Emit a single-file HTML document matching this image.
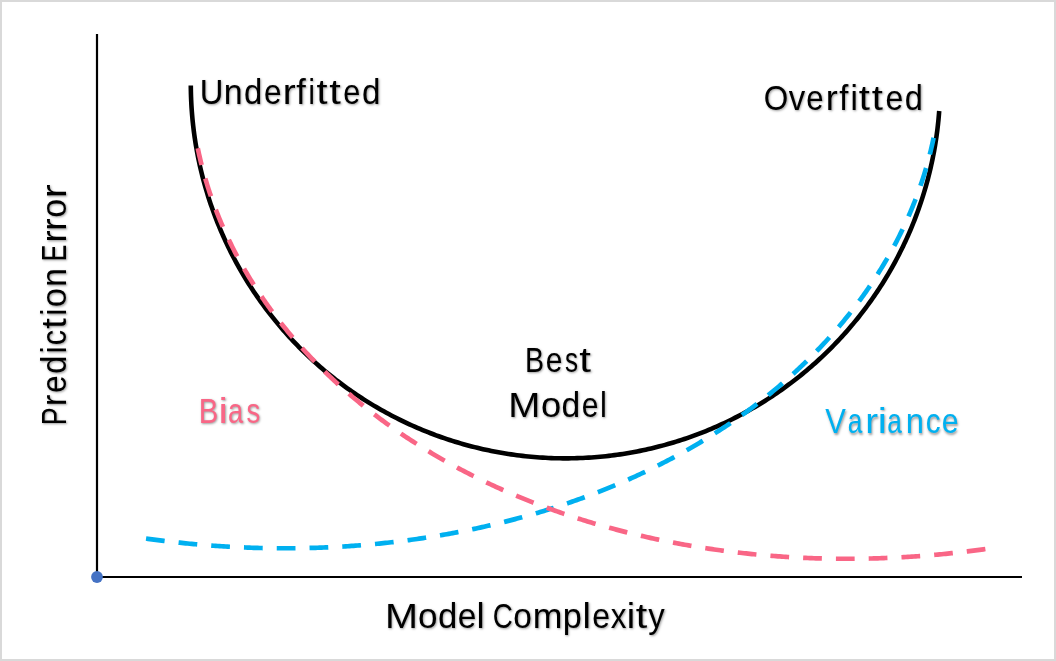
<!DOCTYPE html>
<html><head><meta charset="utf-8">
<style>
html,body{margin:0;padding:0;background:#d9d9d9;}
body{width:1056px;height:661px;position:relative;overflow:hidden;}
#card{position:absolute;left:2px;top:2px;width:1052px;height:657px;background:#fff;}
svg{position:absolute;left:0;top:0;will-change:transform;}
text{font-family:"Liberation Sans",sans-serif;font-size:34.7px;}
.sh text{text-shadow:0.9px 1.2px 2.4px rgba(0,0,0,0.4);}
.sh text.v{text-shadow:-1.2px 0.9px 2.4px rgba(0,0,0,0.4);}
</style></head>
<body>
<div id="card"></div>
<svg width="1056" height="661" viewBox="0 0 1056 661">
<defs><path id="bl" d="M146.04,538.54 L148.02,538.82 L150.00,539.09 L151.98,539.36 L153.96,539.62 L155.95,539.88 L157.93,540.14 L159.91,540.39 L161.90,540.64 L163.88,540.88 L165.87,541.12 L167.86,541.36 L169.84,541.59 L171.83,541.82 L173.82,542.05 L175.80,542.27 L177.79,542.49 L179.78,542.70 L181.77,542.91 L183.76,543.11 L185.75,543.32 L187.74,543.51 L189.73,543.71 L191.72,543.90 L193.71,544.08 L195.70,544.26 L197.70,544.44 L199.69,544.61 L201.68,544.78 L203.67,544.95 L205.67,545.11 L207.66,545.27 L209.66,545.42 L211.65,545.57 L213.64,545.72 L215.64,545.86 L217.64,546.00 L219.63,546.13 L221.63,546.26 L223.62,546.39 L225.62,546.51 L227.62,546.63 L229.61,546.74 L231.61,546.85 L233.61,546.96 L235.60,547.06 L237.60,547.16 L239.60,547.25 L241.60,547.34 L243.60,547.43 L245.59,547.51 L247.59,547.58 L249.59,547.66 L251.59,547.73 L253.59,547.79 L255.59,547.85 L257.59,547.91 L259.59,547.97 L261.59,548.01 L263.58,548.06 L265.58,548.10 L267.58,548.14 L269.58,548.17 L271.58,548.20 L273.58,548.22 L275.58,548.24 L277.58,548.26 L279.58,548.27 L281.58,548.28 L283.58,548.28 L285.58,548.28 L287.58,548.28 L289.58,548.27 L291.58,548.26 L293.58,548.24 L295.58,548.22 L297.58,548.20 L299.58,548.17 L301.58,548.14 L303.58,548.10 L305.58,548.06 L307.58,548.01 L309.58,547.96 L311.58,547.91 L313.58,547.85 L315.58,547.79 L317.58,547.72 L319.58,547.65 L321.57,547.58 L323.57,547.50 L325.57,547.41 L327.57,547.33 L329.57,547.23 L331.56,547.14 L333.56,547.04 L335.56,546.93 L337.56,546.83 L339.55,546.71 L341.55,546.60 L343.55,546.48 L345.54,546.35 L347.54,546.22 L349.53,546.09 L351.53,545.95 L353.52,545.81 L355.52,545.66 L357.51,545.51 L359.51,545.35 L361.50,545.19 L363.49,545.03 L365.49,544.86 L367.48,544.69 L369.47,544.51 L371.46,544.33 L373.45,544.15 L375.45,543.96 L377.44,543.76 L379.43,543.56 L381.42,543.36 L383.40,543.15 L385.39,542.94 L387.38,542.73 L389.37,542.51 L391.36,542.28 L393.34,542.06 L395.33,541.82 L397.32,541.58 L399.30,541.34 L401.29,541.10 L403.27,540.85 L405.25,540.59 L407.24,540.33 L409.22,540.07 L411.20,539.80 L413.18,539.53 L415.16,539.25 L417.14,538.97 L419.12,538.68 L421.10,538.39 L423.08,538.10 L425.06,537.80 L427.03,537.50 L429.01,537.19 L430.99,536.87 L432.96,536.56 L434.94,536.24 L436.91,535.91 L438.88,535.58 L440.85,535.24 L442.82,534.91 L444.79,534.56 L446.76,534.21 L448.73,533.86 L450.70,533.50 L452.67,533.14 L454.63,532.77 L456.60,532.40 L458.56,532.03 L460.53,531.65 L462.49,531.26 L464.45,530.87 L466.41,530.48 L468.37,530.08 L470.33,529.68 L472.29,529.27 L474.24,528.86 L476.20,528.44 L478.16,528.02 L480.11,527.59 L482.06,527.16 L484.02,526.73 L485.97,526.29 L487.92,525.84 L489.86,525.39 L491.81,524.94 L493.76,524.48 L495.71,524.02 L497.65,523.55 L499.59,523.07 L501.54,522.60 L503.48,522.12 L505.42,521.63 L507.35,521.14 L509.29,520.64 L511.23,520.14 L513.16,519.63 L515.10,519.12 L517.03,518.61 L518.96,518.09 L520.89,517.56 L522.82,517.03 L524.75,516.50 L526.67,515.96 L528.60,515.42 L530.52,514.87 L532.44,514.31 L534.36,513.76 L536.28,513.19 L538.20,512.63 L540.12,512.05 L542.03,511.48 L543.94,510.89 L545.86,510.31 L547.77,509.71 L549.68,509.12 L551.58,508.51 L553.49,507.91 L555.39,507.30 L557.30,506.68 L559.20,506.06 L561.10,505.43 L562.99,504.80 L564.89,504.16 L566.78,503.52 L568.68,502.88 L570.57,502.23 L572.46,501.57 L574.34,500.91 L576.23,500.24 L578.11,499.57 L580.00,498.90 L581.88,498.22 L583.76,497.53 L585.63,496.84 L587.51,496.14 L589.38,495.44 L591.25,494.74 L593.12,494.03 L594.99,493.31 L596.85,492.59 L598.72,491.86 L600.58,491.13 L602.44,490.40 L604.30,489.65 L606.15,488.91 L608.01,488.16 L609.86,487.40 L611.71,486.64 L613.55,485.87 L615.40,485.10 L617.24,484.32 L619.08,483.54 L620.92,482.75 L622.76,481.96 L624.59,481.16 L626.42,480.36 L628.25,479.55 L630.08,478.74 L631.90,477.92 L633.73,477.10 L635.55,476.27 L637.37,475.43 L639.18,474.59 L640.99,473.75 L642.80,472.90 L644.61,472.04 L646.42,471.18 L648.22,470.32 L650.02,469.45 L651.82,468.57 L653.61,467.69 L655.41,466.80 L657.20,465.91 L658.99,465.02 L660.77,464.11 L662.55,463.21 L664.33,462.29 L666.11,461.37 L667.88,460.45 L669.65,459.52 L671.42,458.59 L673.19,457.65 L674.95,456.70 L676.71,455.75 L678.47,454.80 L680.22,453.84 L681.97,452.87 L683.72,451.90 L685.46,450.92 L687.21,449.94 L688.95,448.95 L690.68,447.96 L692.41,446.96 L694.14,445.95 L695.87,444.94 L697.59,443.93 L699.31,442.91 L701.03,441.88 L702.74,440.85 L704.45,439.81 L706.16,438.77 L707.87,437.72 L709.57,436.67 L711.26,435.61 L712.96,434.55 L714.65,433.48 L716.33,432.40 L718.02,431.32 L719.69,430.24 L721.37,429.15 L723.04,428.05 L724.71,426.95 L726.38,425.84 L728.04,424.73 L729.70,423.61 L731.35,422.48 L733.00,421.35 L734.65,420.22 L736.29,419.08 L737.93,417.93 L739.56,416.78 L741.19,415.62 L742.82,414.46 L744.44,413.29 L746.06,412.11 L747.68,410.94 L749.29,409.75 L750.90,408.56 L752.50,407.36 L754.10,406.16 L755.69,404.95 L757.28,403.74 L758.87,402.52 L760.45,401.30 L762.03,400.07 L763.60,398.83 L765.17,397.59 L766.73,396.35 L768.29,395.10 L769.85,393.84 L771.40,392.58 L772.95,391.31 L774.49,390.03 L776.03,388.75 L777.56,387.47 L779.09,386.18 L780.61,384.88 L782.13,383.58 L783.64,382.27 L785.15,380.96 L786.65,379.64 L788.15,378.32 L789.65,376.99 L791.14,375.66 L792.62,374.32 L794.10,372.97 L795.58,371.62 L797.05,370.26 L798.51,368.90 L799.97,367.53 L801.42,366.16 L802.87,364.78 L804.31,363.39 L805.75,362.00 L807.19,360.61 L808.61,359.21 L810.04,357.80 L811.45,356.39 L812.86,354.97 L814.27,353.55 L815.67,352.12 L817.06,350.69 L818.45,349.25 L819.84,347.81 L821.21,346.36 L822.59,344.90 L823.95,343.44 L825.31,341.97 L826.67,340.50 L828.02,339.03 L829.36,337.54 L830.70,336.06 L832.03,334.56 L833.35,333.06 L834.67,331.56 L835.98,330.05 L837.29,328.54 L838.59,327.02 L839.88,325.49 L841.17,323.96 L842.45,322.43 L843.73,320.89 L845.00,319.34 L846.26,317.79 L847.52,316.23 L848.76,314.67 L850.01,313.10 L851.24,311.53 L852.47,309.96 L853.70,308.37 L854.91,306.79 L856.12,305.19 L857.33,303.60 L858.52,301.99 L859.71,300.39 L860.90,298.77 L862.07,297.15 L863.24,295.53 L864.40,293.90 L865.56,292.27 L866.70,290.63 L867.84,288.99 L868.98,287.34 L870.10,285.69 L871.22,284.03 L872.33,282.37 L873.44,280.70 L874.53,279.03 L875.62,277.35 L876.71,275.67 L877.78,273.98 L878.85,272.29 L879.91,270.59 L880.96,268.89 L882.00,267.19 L883.04,265.48 L884.07,263.76 L885.09,262.04 L886.10,260.32 L887.11,258.59 L888.10,256.85 L889.09,255.12 L890.08,253.37 L891.05,251.63 L892.01,249.87 L892.97,248.12 L893.92,246.36 L894.86,244.59 L895.79,242.82 L896.72,241.05 L897.63,239.27 L898.54,237.49 L899.44,235.70 L900.33,233.91 L901.21,232.12 L902.09,230.32 L902.95,228.52 L903.81,226.71 L904.66,224.90 L905.50,223.08 L906.33,221.26 L907.15,219.44 L907.96,217.61 L908.77,215.78 L909.56,213.95 L910.35,212.11 L911.13,210.26 L911.90,208.42 L912.65,206.57 L913.40,204.71 L914.15,202.86 L914.88,201.00 L915.60,199.13 L916.31,197.26 L917.02,195.39 L917.71,193.51 L918.40,191.64 L919.07,189.75 L919.74,187.87 L920.40,185.98 L921.04,184.09 L921.68,182.19 L922.31,180.29 L922.93,178.39 L923.54,176.48 L924.13,174.58 L924.72,172.66 L925.30,170.75 L925.87,168.83 L926.43,166.91 L926.98,164.99 L927.52,163.06 L928.05,161.13 L928.57,159.20 L929.07,157.27 L929.57,155.33 L930.06,153.39 L930.54,151.45 L931.01,149.51 L931.46,147.56 L931.91,145.61 L932.35,143.66 L932.77,141.70 L933.19,139.75 L933.59,137.79"/></defs>
<line x1="97" y1="33.9" x2="97" y2="577" stroke="#000" stroke-width="2.2"/>
<line x1="97" y1="577" x2="1022" y2="577" stroke="#000" stroke-width="2.2"/>
<path d="M190.80,85.50 L190.83,88.38 L190.88,91.25 L190.95,94.13 L191.04,97.00 L191.15,99.88 L191.29,102.75 L191.44,105.63 L191.62,108.50 L191.83,111.37 L192.05,114.23 L192.30,117.10 L192.56,119.97 L192.85,122.83 L193.17,125.69 L193.50,128.55 L193.85,131.40 L194.23,134.25 L194.63,137.10 L195.05,139.95 L195.50,142.79 L195.96,145.63 L196.45,148.46 L196.96,151.30 L197.49,154.12 L198.04,156.95 L198.61,159.77 L199.21,162.58 L199.82,165.39 L200.46,168.20 L201.12,171.00 L201.80,173.79 L202.51,176.58 L203.23,179.36 L203.98,182.14 L204.74,184.92 L205.53,187.68 L206.34,190.44 L207.17,193.20 L208.02,195.95 L208.90,198.69 L209.79,201.42 L210.70,204.15 L211.64,206.87 L212.60,209.58 L213.57,212.29 L214.57,214.99 L215.59,217.68 L216.63,220.36 L217.69,223.03 L218.77,225.70 L219.87,228.36 L220.99,231.01 L222.13,233.65 L223.30,236.28 L224.48,238.90 L225.68,241.52 L226.90,244.12 L228.14,246.72 L229.41,249.30 L230.69,251.88 L231.99,254.44 L233.31,257.00 L234.65,259.54 L236.01,262.08 L237.39,264.60 L238.79,267.12 L240.21,269.62 L241.65,272.11 L243.10,274.59 L244.58,277.06 L246.07,279.52 L247.58,281.97 L249.12,284.40 L250.67,286.83 L252.24,289.24 L253.82,291.64 L255.43,294.02 L257.05,296.40 L258.70,298.76 L260.36,301.11 L262.04,303.45 L263.73,305.77 L265.45,308.08 L267.18,310.38 L268.93,312.66 L270.70,314.93 L272.48,317.19 L274.28,319.43 L276.10,321.66 L277.94,323.87 L279.79,326.07 L281.66,328.26 L283.55,330.43 L285.45,332.59 L287.37,334.73 L289.30,336.86 L291.26,338.97 L293.23,341.07 L295.21,343.16 L297.21,345.22 L299.23,347.28 L301.26,349.31 L303.31,351.33 L305.37,353.34 L307.45,355.33 L309.54,357.30 L311.65,359.26 L313.77,361.20 L315.91,363.12 L318.06,365.03 L320.23,366.92 L322.41,368.80 L324.61,370.66 L326.82,372.50 L329.05,374.32 L331.28,376.13 L333.54,377.92 L335.80,379.69 L338.08,381.44 L340.38,383.18 L342.68,384.90 L345.00,386.60 L347.33,388.29 L349.68,389.95 L352.04,391.60 L354.41,393.23 L356.79,394.84 L359.19,396.44 L361.59,398.01 L364.01,399.57 L366.45,401.10 L368.89,402.62 L371.34,404.12 L373.81,405.60 L376.29,407.07 L378.78,408.51 L381.28,409.93 L383.79,411.34 L386.31,412.72 L388.84,414.09 L391.38,415.44 L393.93,416.76 L396.50,418.07 L399.07,419.36 L401.65,420.63 L404.24,421.88 L406.85,423.10 L409.46,424.31 L412.08,425.50 L414.71,426.67 L417.34,427.82 L419.99,428.94 L422.65,430.05 L425.31,431.14 L427.98,432.20 L430.66,433.25 L433.35,434.27 L436.05,435.28 L438.75,436.26 L441.46,437.22 L444.18,438.17 L446.90,439.09 L449.64,439.99 L452.38,440.87 L455.12,441.72 L457.87,442.56 L460.63,443.38 L463.40,444.17 L466.17,444.94 L468.95,445.70 L471.73,446.43 L474.52,447.14 L477.31,447.82 L480.11,448.49 L482.91,449.14 L485.72,449.76 L488.53,450.36 L491.35,450.94 L494.17,451.50 L497.00,452.04 L499.83,452.55 L502.66,453.04 L505.50,453.52 L508.34,453.97 L511.19,454.39 L514.04,454.80 L516.89,455.18 L519.74,455.55 L522.60,455.89 L525.46,456.20 L528.32,456.50 L531.18,456.78 L534.05,457.03 L536.92,457.26 L539.79,457.47 L542.66,457.65 L545.53,457.82 L548.40,457.96 L551.28,458.08 L554.15,458.18 L557.03,458.25 L559.90,458.31 L562.78,458.34 L565.66,458.35 L568.54,458.34 L571.41,458.30 L574.29,458.25 L577.16,458.17 L580.04,458.07 L582.91,457.95 L585.79,457.80 L588.66,457.63 L591.53,457.44 L594.40,457.23 L597.27,457.00 L600.13,456.75 L602.99,456.47 L605.86,456.17 L608.72,455.85 L611.57,455.51 L614.43,455.14 L617.28,454.76 L620.12,454.35 L622.97,453.92 L625.81,453.46 L628.65,452.99 L631.48,452.49 L634.31,451.98 L637.14,451.44 L639.96,450.88 L642.78,450.29 L645.59,449.69 L648.40,449.07 L651.20,448.42 L654.00,447.75 L656.79,447.06 L659.58,446.35 L662.36,445.61 L665.14,444.86 L667.91,444.08 L670.67,443.29 L673.43,442.47 L676.18,441.63 L678.93,440.77 L681.66,439.89 L684.40,438.99 L687.12,438.06 L689.84,437.12 L692.55,436.15 L695.25,435.17 L697.95,434.16 L700.63,433.13 L703.31,432.09 L705.98,431.02 L708.65,429.93 L711.30,428.82 L713.95,427.69 L716.58,426.54 L719.21,425.37 L721.83,424.18 L724.44,422.97 L727.04,421.74 L729.63,420.49 L732.21,419.22 L734.79,417.93 L737.35,416.62 L739.90,415.29 L742.44,413.94 L744.97,412.57 L747.49,411.19 L750.00,409.78 L752.50,408.35 L754.99,406.91 L757.46,405.44 L759.93,403.96 L762.38,402.46 L764.82,400.94 L767.25,399.40 L769.67,397.84 L772.08,396.26 L774.47,394.67 L776.85,393.05 L779.22,391.42 L781.58,389.77 L783.92,388.10 L786.25,386.42 L788.57,384.71 L790.88,382.99 L793.17,381.25 L795.45,379.50 L797.71,377.72 L799.96,375.93 L802.20,374.12 L804.42,372.29 L806.63,370.45 L808.83,368.59 L811.01,366.72 L813.17,364.82 L815.33,362.91 L817.46,360.99 L819.58,359.04 L821.69,357.08 L823.78,355.11 L825.86,353.12 L827.92,351.11 L829.97,349.09 L832.00,347.05 L834.01,345.00 L836.01,342.93 L837.99,340.84 L839.96,338.74 L841.91,336.63 L843.84,334.50 L845.76,332.35 L847.66,330.20 L849.55,328.02 L851.41,325.83 L853.27,323.63 L855.10,321.41 L856.92,319.18 L858.72,316.94 L860.50,314.68 L862.26,312.41 L864.01,310.12 L865.74,307.83 L867.45,305.51 L869.15,303.19 L870.83,300.85 L872.48,298.50 L874.12,296.14 L875.75,293.76 L877.35,291.37 L878.94,288.97 L880.50,286.56 L882.05,284.14 L883.58,281.70 L885.09,279.25 L886.59,276.79 L888.06,274.32 L889.51,271.84 L890.95,269.35 L892.37,266.84 L893.76,264.33 L895.14,261.80 L896.50,259.26 L897.84,256.72 L899.16,254.16 L900.45,251.59 L901.73,249.02 L902.99,246.43 L904.23,243.84 L905.45,241.23 L906.65,238.62 L907.83,235.99 L908.99,233.36 L910.13,230.72 L911.25,228.07 L912.35,225.41 L913.43,222.74 L914.49,220.07 L915.52,217.38 L916.54,214.69 L917.53,211.99 L918.51,209.28 L919.46,206.57 L920.40,203.85 L921.31,201.12 L922.20,198.39 L923.07,195.64 L923.92,192.90 L924.75,190.14 L925.56,187.38 L926.34,184.61 L927.11,181.84 L927.85,179.06 L928.57,176.27 L929.27,173.48 L929.95,170.69 L930.61,167.89 L931.24,165.08 L931.86,162.27 L932.45,159.46 L933.02,156.64 L933.57,153.81 L934.10,150.98 L934.61,148.15 L935.09,145.32 L935.55,142.48 L935.99,139.63 L936.41,136.79 L936.81,133.94 L937.19,131.09 L937.54,128.23 L937.87,125.37 L938.18,122.51 L938.47,119.65 L938.73,116.79 L938.98,113.92 L939.20,111.05" fill="none" stroke="#000" stroke-width="4.6"/>
<use href="#bl" fill="none" stroke="#00B0F0" stroke-width="4.68" stroke-dasharray="18.74 14.05"/>
<use href="#bl" transform="translate(1131.4,10.5) scale(-1,1)" fill="none" stroke="#F96686" stroke-width="4.68" stroke-dasharray="18.74 14.05"/>
<circle cx="97" cy="577" r="5.9" fill="#4472C4"/>
<g class="sh">
<text transform="translate(211.55,103.9) scale(0.944,1) translate(-12.53,0)">U</text>
<text transform="translate(233.15,103.9) scale(0.977,1) translate(-9.67,0)">n</text>
<text transform="translate(252.75,103.9) scale(0.948,1) translate(-9.26,0)">d</text>
<text transform="translate(272.65,103.9) scale(0.909,1) translate(-9.62,0)">e</text>
<text transform="translate(290.20,103.9) scale(1.118,1) translate(-6.64,0)">r</text>
<text transform="translate(301.30,103.9) scale(0.989,1) translate(-5.09,0)">f</text>
<text transform="translate(311.70,103.9) scale(0.820,1) translate(-3.85,0)">i</text>
<text transform="translate(322.10,103.9) scale(1.140,1) translate(-4.96,0)">t</text>
<text transform="translate(335.15,103.9) scale(1.196,1) translate(-4.96,0)">t</text>
<text transform="translate(351.75,103.9) scale(0.884,1) translate(-9.62,0)">e</text>
<text transform="translate(370.90,103.9) scale(0.955,1) translate(-9.26,0)">d</text>
<text transform="translate(776.10,110.0) scale(0.908,1) translate(-13.49,0)">O</text>
<text transform="translate(796.85,110.0) scale(0.947,1) translate(-8.68,0)">v</text>
<text transform="translate(814.95,110.0) scale(0.897,1) translate(-9.62,0)">e</text>
<text transform="translate(832.65,110.0) scale(1.037,1) translate(-6.64,0)">r</text>
<text transform="translate(844.00,110.0) scale(0.946,1) translate(-5.09,0)">f</text>
<text transform="translate(854.10,110.0) scale(0.951,1) translate(-3.85,0)">i</text>
<text transform="translate(864.55,110.0) scale(1.151,1) translate(-4.96,0)">t</text>
<text transform="translate(877.45,110.0) scale(1.151,1) translate(-4.96,0)">t</text>
<text transform="translate(894.35,110.0) scale(0.921,1) translate(-9.62,0)">e</text>
<text transform="translate(913.45,110.0) scale(0.936,1) translate(-9.26,0)">d</text>
<text transform="translate(534.95,372.1) scale(0.823,1) translate(-12.08,0)">B</text>
<text transform="translate(554.10,372.1) scale(0.866,1) translate(-9.62,0)">e</text>
<text transform="translate(571.35,372.1) scale(0.753,1) translate(-8.53,0)">s</text>
<text transform="translate(585.30,372.1) scale(1.207,1) translate(-4.96,0)">t</text>
<text transform="translate(524.25,416.9) scale(1.111,1) translate(-14.45,0)">M</text>
<text transform="translate(551.00,416.9) scale(1.044,1) translate(-9.65,0)">o</text>
<text transform="translate(570.40,416.9) scale(0.968,1) translate(-9.26,0)">d</text>
<text transform="translate(590.20,416.9) scale(0.866,1) translate(-9.62,0)">e</text>
<text transform="translate(603.40,416.9) scale(0.885,1) translate(-3.86,0)">l</text>
<text transform="translate(208.95,423.1) scale(0.845,1) translate(-12.08,0)" fill="#F96686">B</text>
<text transform="translate(223.20,423.1) scale(1.213,1) translate(-3.85,0)" fill="#F96686">i</text>
<text transform="translate(236.25,423.1) scale(0.785,1) translate(-10.39,0)" fill="#F96686">a</text>
<text transform="translate(253.15,423.1) scale(0.793,1) translate(-8.53,0)" fill="#F96686">s</text>
<text transform="translate(835.60,433.4) scale(0.889,1) translate(-11.57,0)" fill="#00B0F0">V</text>
<text transform="translate(855.70,433.4) scale(0.757,1) translate(-10.39,0)" fill="#00B0F0">a</text>
<text transform="translate(872.55,433.4) scale(1.107,1) translate(-6.64,0)" fill="#00B0F0">r</text>
<text transform="translate(882.35,433.4) scale(1.180,1) translate(-3.85,0)" fill="#00B0F0">i</text>
<text transform="translate(895.10,433.4) scale(0.757,1) translate(-10.39,0)" fill="#00B0F0">a</text>
<text transform="translate(914.80,433.4) scale(0.943,1) translate(-9.67,0)" fill="#00B0F0">n</text>
<text transform="translate(933.45,433.4) scale(0.856,1) translate(-8.95,0)" fill="#00B0F0">c</text>
<text transform="translate(950.15,433.4) scale(0.872,1) translate(-9.62,0)" fill="#00B0F0">e</text>
<text transform="translate(401.40,627.6) scale(1.142,1) translate(-14.45,0)">M</text>
<text transform="translate(427.75,627.6) scale(1.013,1) translate(-9.65,0)">o</text>
<text transform="translate(447.15,627.6) scale(1.000,1) translate(-9.26,0)">d</text>
<text transform="translate(467.00,627.6) scale(0.964,1) translate(-9.62,0)">e</text>
<text transform="translate(480.65,627.6) scale(1.049,1) translate(-3.86,0)">l</text>
<text transform="translate(503.05,627.6) scale(0.801,1) translate(-12.75,0)">C</text>
<text transform="translate(522.65,627.6) scale(0.964,1) translate(-9.65,0)">o</text>
<text transform="translate(547.65,627.6) scale(1.028,1) translate(-14.46,0)">m</text>
<text transform="translate(572.55,627.6) scale(0.987,1) translate(-10.04,0)">p</text>
<text transform="translate(586.70,627.6) scale(1.082,1) translate(-3.86,0)">l</text>
<text transform="translate(601.05,627.6) scale(0.921,1) translate(-9.62,0)">e</text>
<text transform="translate(618.65,627.6) scale(0.904,1) translate(-8.68,0)">x</text>
<text transform="translate(630.80,627.6) scale(1.082,1) translate(-3.85,0)">i</text>
<text transform="translate(641.60,627.6) scale(1.185,1) translate(-4.96,0)">t</text>
<text transform="translate(656.60,627.6) scale(0.948,1) translate(-8.68,0)">y</text>
<text transform="translate(66.0,415.85) rotate(-90) scale(0.769,1) translate(-12.08,0)" class="v">P</text>
<text transform="translate(66.0,399.40) rotate(-90) scale(0.980,1) translate(-6.64,0)" class="v">r</text>
<text transform="translate(66.0,384.05) rotate(-90) scale(0.897,1) translate(-9.62,0)" class="v">e</text>
<text transform="translate(66.0,365.05) rotate(-90) scale(0.936,1) translate(-9.26,0)" class="v">d</text>
<text transform="translate(66.0,349.90) rotate(-90) scale(0.885,1) translate(-3.85,0)" class="v">i</text>
<text transform="translate(66.0,337.20) rotate(-90) scale(0.889,1) translate(-8.95,0)" class="v">c</text>
<text transform="translate(66.0,323.15) rotate(-90) scale(1.106,1) translate(-4.96,0)" class="v">t</text>
<text transform="translate(66.0,312.25) rotate(-90) scale(0.918,1) translate(-3.85,0)" class="v">i</text>
<text transform="translate(66.0,297.55) rotate(-90) scale(1.001,1) translate(-9.65,0)" class="v">o</text>
<text transform="translate(66.0,277.55) rotate(-90) scale(0.963,1) translate(-9.67,0)" class="v">n</text>
<text transform="translate(66.0,252.55) rotate(-90) scale(0.720,1) translate(-12.25,0)" class="v">E</text>
<text transform="translate(66.0,235.60) rotate(-90) scale(1.049,1) translate(-6.64,0)" class="v">r</text>
<text transform="translate(66.0,223.65) rotate(-90) scale(1.061,1) translate(-6.64,0)" class="v">r</text>
<text transform="translate(66.0,208.25) rotate(-90) scale(0.977,1) translate(-9.65,0)" class="v">o</text>
<text transform="translate(66.0,190.35) rotate(-90) scale(1.199,1) translate(-6.64,0)" class="v">r</text>
</g>
</svg>
</body></html>
